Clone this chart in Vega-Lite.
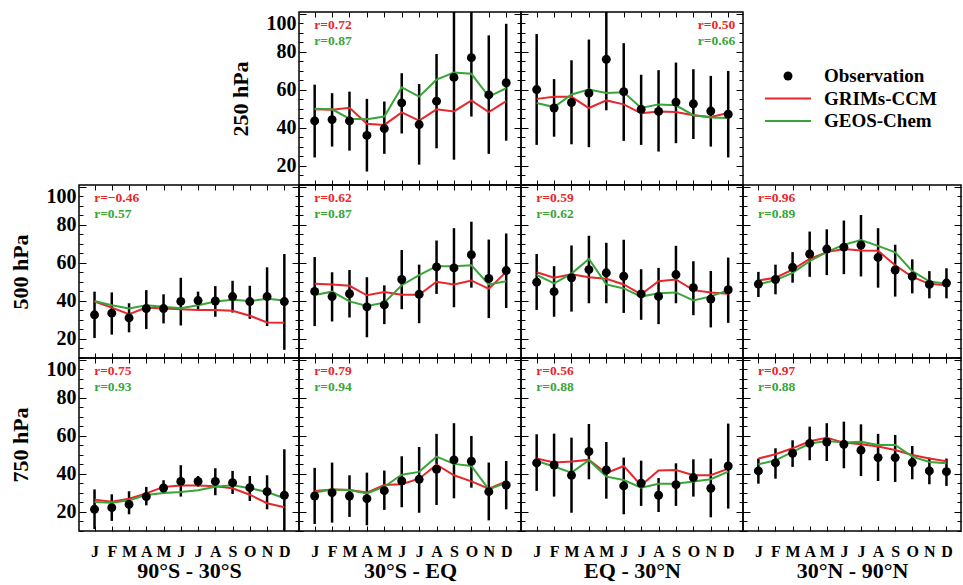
{
"$schema":"https://vega.github.io/schema/vega-lite/v6.json",
"padding":{"left":8,"top":10,"right":0,"bottom":0},
"background":"white",
"config":{
 "view":{"stroke":"black","strokeWidth":1.5},
 "axis":{"grid":false,"domain":false,"tickColor":"black","tickWidth":1,"labelFont":"Liberation Serif","labelFontWeight":"bold","labelColor":"black","titleFont":"Liberation Serif","titleFontWeight":"bold","titleColor":"black"},
 "concat":{"spacing":0}
},
"datasets":{
 "obs":[
{"level":250,"region":"30S-EQ","month":1,"obs":43.7,"low":24.5,"high":62.8,"grims":49.8,"geos":50.1},
{"level":250,"region":"30S-EQ","month":2,"obs":44.4,"low":30.2,"high":58.3,"grims":49.6,"geos":49.8},
{"level":250,"region":"30S-EQ","month":3,"obs":43.7,"low":28.1,"high":59.1,"grims":50.6,"geos":44.9},
{"level":250,"region":"30S-EQ","month":4,"obs":36.1,"low":17.1,"high":55.3,"grims":42.2,"geos":44.6},
{"level":250,"region":"30S-EQ","month":5,"obs":39.7,"low":26.4,"high":53.9,"grims":41.6,"geos":46.0},
{"level":250,"region":"30S-EQ","month":6,"obs":53.2,"low":37.1,"high":68.8,"grims":48.2,"geos":61.4},
{"level":250,"region":"30S-EQ","month":7,"obs":41.8,"low":20.7,"high":63.1,"grims":43.9,"geos":56.5},
{"level":250,"region":"30S-EQ","month":8,"obs":54.1,"low":29.3,"high":78.9,"grims":49.8,"geos":65.4},
{"level":250,"region":"30S-EQ","month":9,"obs":66.6,"low":23.3,"high":110,"grims":48.7,"geos":69.2},
{"level":250,"region":"30S-EQ","month":10,"obs":77.0,"low":46.0,"high":108,"grims":54.5,"geos":68.5},
{"level":250,"region":"30S-EQ","month":11,"obs":57.4,"low":26.4,"high":88.7,"grims":48.4,"geos":56.5},
{"level":250,"region":"30S-EQ","month":12,"obs":63.8,"low":33.3,"high":94.8,"grims":54.1,"geos":60.9},
{"level":250,"region":"EQ-30N","month":1,"obs":60.2,"low":31.1,"high":89.4,"grims":55.3,"geos":53.1},
{"level":250,"region":"EQ-30N","month":2,"obs":50.5,"low":35.4,"high":65.7,"grims":56.4,"geos":51.0},
{"level":250,"region":"EQ-30N","month":3,"obs":53.4,"low":31.4,"high":75.6,"grims":56.4,"geos":57.6},
{"level":250,"region":"EQ-30N","month":4,"obs":58.3,"low":29.9,"high":86.5,"grims":50.5,"geos":60.2},
{"level":250,"region":"EQ-30N","month":5,"obs":76.1,"low":49.3,"high":103,"grims":54.5,"geos":58.4},
{"level":250,"region":"EQ-30N","month":6,"obs":59.1,"low":33.2,"high":84.6,"grims":52.4,"geos":58.8},
{"level":250,"region":"EQ-30N","month":7,"obs":49.8,"low":31.1,"high":68.0,"grims":47.7,"geos":50.5},
{"level":250,"region":"EQ-30N","month":8,"obs":48.7,"low":27.6,"high":70.4,"grims":48.7,"geos":52.4},
{"level":250,"region":"EQ-30N","month":9,"obs":53.6,"low":32.0,"high":74.4,"grims":48.4,"geos":51.9},
{"level":250,"region":"EQ-30N","month":10,"obs":52.7,"low":34.2,"high":70.9,"grims":46.7,"geos":46.7},
{"level":250,"region":"EQ-30N","month":11,"obs":48.9,"low":30.2,"high":67.4,"grims":45.8,"geos":45.5},
{"level":250,"region":"EQ-30N","month":12,"obs":47.2,"low":24.5,"high":70.0,"grims":47.9,"geos":45.3},
{"level":500,"region":"90S-30S","month":1,"obs":32.7,"low":20.5,"high":44.9,"grims":39.7,"geos":40.0},
{"level":500,"region":"90S-30S","month":2,"obs":33.6,"low":22.3,"high":44.5,"grims":36.5,"geos":37.7},
{"level":500,"region":"90S-30S","month":3,"obs":31.1,"low":23.5,"high":38.8,"grims":33.0,"geos":36.0},
{"level":500,"region":"90S-30S","month":4,"obs":36.0,"low":25.2,"high":45.7,"grims":36.5,"geos":37.7},
{"level":500,"region":"90S-30S","month":5,"obs":36.0,"low":28.2,"high":43.5,"grims":36.0,"geos":36.9},
{"level":500,"region":"90S-30S","month":6,"obs":39.8,"low":27.1,"high":52.2,"grims":35.7,"geos":36.2},
{"level":500,"region":"90S-30S","month":7,"obs":40.2,"low":35.1,"high":44.9,"grims":35.3,"geos":37.7},
{"level":500,"region":"90S-30S","month":8,"obs":40.0,"low":31.7,"high":47.8,"grims":35.3,"geos":39.7},
{"level":500,"region":"90S-30S","month":9,"obs":42.3,"low":33.9,"high":50.6,"grims":34.8,"geos":40.7},
{"level":500,"region":"90S-30S","month":10,"obs":39.7,"low":30.6,"high":48.0,"grims":32.2,"geos":40.0},
{"level":500,"region":"90S-30S","month":11,"obs":42.3,"low":26.8,"high":57.7,"grims":28.7,"geos":41.2},
{"level":500,"region":"90S-30S","month":12,"obs":39.7,"low":14.3,"high":64.7,"grims":28.5,"geos":40.3},
{"level":500,"region":"30S-EQ","month":1,"obs":45.0,"low":26.8,"high":63.1,"grims":49.0,"geos":43.1},
{"level":500,"region":"30S-EQ","month":2,"obs":42.3,"low":29.2,"high":55.1,"grims":48.7,"geos":44.9},
{"level":500,"region":"30S-EQ","month":3,"obs":43.8,"low":31.3,"high":56.3,"grims":48.0,"geos":39.8},
{"level":500,"region":"30S-EQ","month":4,"obs":36.9,"low":20.9,"high":52.5,"grims":43.0,"geos":37.4},
{"level":500,"region":"30S-EQ","month":5,"obs":37.9,"low":27.8,"high":48.2,"grims":44.7,"geos":39.1},
{"level":500,"region":"30S-EQ","month":6,"obs":51.3,"low":35.7,"high":66.8,"grims":43.3,"geos":48.3},
{"level":500,"region":"30S-EQ","month":7,"obs":43.5,"low":28.3,"high":59.1,"grims":43.3,"geos":53.6},
{"level":500,"region":"30S-EQ","month":8,"obs":57.9,"low":43.7,"high":71.8,"grims":50.1,"geos":58.3},
{"level":500,"region":"30S-EQ","month":9,"obs":57.4,"low":36.7,"high":78.3,"grims":48.7,"geos":58.3},
{"level":500,"region":"30S-EQ","month":10,"obs":64.3,"low":47.0,"high":81.7,"grims":50.8,"geos":58.8},
{"level":500,"region":"30S-EQ","month":11,"obs":51.8,"low":31.0,"high":72.3,"grims":46.4,"geos":48.7},
{"level":500,"region":"30S-EQ","month":12,"obs":56.0,"low":36.3,"high":75.5,"grims":55.3,"geos":50.4},
{"level":500,"region":"EQ-30N","month":1,"obs":49.9,"low":35.3,"high":64.7,"grims":55.1,"geos":53.7},
{"level":500,"region":"EQ-30N","month":2,"obs":44.9,"low":31.7,"high":58.3,"grims":52.2,"geos":49.2},
{"level":500,"region":"EQ-30N","month":3,"obs":52.2,"low":34.4,"high":69.2,"grims":54.1,"geos":54.4},
{"level":500,"region":"EQ-30N","month":4,"obs":56.5,"low":38.8,"high":74.3,"grims":52.5,"geos":62.1},
{"level":500,"region":"EQ-30N","month":5,"obs":54.8,"low":38.8,"high":70.6,"grims":51.7,"geos":48.7},
{"level":500,"region":"EQ-30N","month":6,"obs":53.0,"low":33.7,"high":72.2,"grims":48.7,"geos":46.6},
{"level":500,"region":"EQ-30N","month":7,"obs":43.7,"low":30.1,"high":56.7,"grims":43.5,"geos":42.3},
{"level":500,"region":"EQ-30N","month":8,"obs":42.4,"low":27.8,"high":57.4,"grims":50.4,"geos":44.0},
{"level":500,"region":"EQ-30N","month":9,"obs":53.9,"low":38.8,"high":69.0,"grims":51.3,"geos":44.5},
{"level":500,"region":"EQ-30N","month":10,"obs":47.0,"low":32.5,"high":60.9,"grims":45.7,"geos":40.3},
{"level":500,"region":"EQ-30N","month":11,"obs":41.0,"low":26.1,"high":55.8,"grims":44.5,"geos":42.4},
{"level":500,"region":"EQ-30N","month":12,"obs":45.9,"low":28.5,"high":62.8,"grims":43.8,"geos":45.7},
{"level":500,"region":"30N-90N","month":1,"obs":48.9,"low":42.1,"high":55.3,"grims":50.8,"geos":48.7},
{"level":500,"region":"30N-90N","month":2,"obs":51.3,"low":43.5,"high":59.1,"grims":52.2,"geos":51.0},
{"level":500,"region":"30N-90N","month":3,"obs":57.7,"low":49.6,"high":65.7,"grims":56.5,"geos":54.8},
{"level":500,"region":"30N-90N","month":4,"obs":64.7,"low":52.7,"high":76.5,"grims":62.1,"geos":60.9},
{"level":500,"region":"30N-90N","month":5,"obs":67.3,"low":53.6,"high":77.7,"grims":65.7,"geos":65.7},
{"level":500,"region":"30N-90N","month":6,"obs":68.3,"low":54.1,"high":82.3,"grims":67.3,"geos":69.6},
{"level":500,"region":"30N-90N","month":7,"obs":69.4,"low":52.9,"high":85.2,"grims":66.6,"geos":72.0},
{"level":500,"region":"30N-90N","month":8,"obs":62.9,"low":47.0,"high":78.3,"grims":66.4,"geos":69.0},
{"level":500,"region":"30N-90N","month":9,"obs":56.3,"low":42.3,"high":69.6,"grims":58.8,"geos":65.6},
{"level":500,"region":"30N-90N","month":10,"obs":52.9,"low":44.0,"high":61.9,"grims":52.7,"geos":55.7},
{"level":500,"region":"30N-90N","month":11,"obs":48.7,"low":41.4,"high":55.7,"grims":49.0,"geos":50.3},
{"level":500,"region":"30N-90N","month":12,"obs":49.4,"low":41.4,"high":57.2,"grims":48.3,"geos":49.0},
{"level":750,"region":"90S-30S","month":1,"obs":21.4,"low":11.0,"high":31.9,"grims":26.5,"geos":25.3},
{"level":750,"region":"90S-30S","month":2,"obs":22.3,"low":15.3,"high":29.3,"grims":25.4,"geos":24.9},
{"level":750,"region":"90S-30S","month":3,"obs":24.0,"low":18.8,"high":30.9,"grims":27.0,"geos":26.1},
{"level":750,"region":"90S-30S","month":4,"obs":28.1,"low":23.5,"high":33.2,"grims":29.8,"geos":28.9},
{"level":750,"region":"90S-30S","month":5,"obs":32.6,"low":30.2,"high":36.7,"grims":33.2,"geos":30.0},
{"level":750,"region":"90S-30S","month":6,"obs":36.1,"low":28.1,"high":44.6,"grims":33.9,"geos":30.5},
{"level":750,"region":"90S-30S","month":7,"obs":36.1,"low":33.3,"high":38.9,"grims":33.9,"geos":31.4},
{"level":750,"region":"90S-30S","month":8,"obs":36.1,"low":28.8,"high":43.0,"grims":33.5,"geos":33.3},
{"level":750,"region":"90S-30S","month":9,"obs":35.4,"low":29.5,"high":41.6,"grims":32.5,"geos":34.0},
{"level":750,"region":"90S-30S","month":10,"obs":32.8,"low":25.8,"high":38.9,"grims":29.1,"geos":32.5},
{"level":750,"region":"90S-30S","month":11,"obs":30.7,"low":21.4,"high":39.3,"grims":24.6,"geos":30.5},
{"level":750,"region":"90S-30S","month":12,"obs":28.8,"low":5.0,"high":53.0,"grims":22.5,"geos":27.2},
{"level":750,"region":"30S-EQ","month":1,"obs":28.4,"low":13.7,"high":43.2,"grims":31.1,"geos":30.2},
{"level":750,"region":"30S-EQ","month":2,"obs":30.2,"low":14.4,"high":46.0,"grims":31.8,"geos":31.8},
{"level":750,"region":"30S-EQ","month":3,"obs":28.4,"low":17.4,"high":39.3,"grims":31.6,"geos":31.6},
{"level":750,"region":"30S-EQ","month":4,"obs":27.0,"low":13.0,"high":40.7,"grims":30.2,"geos":29.8},
{"level":750,"region":"30S-EQ","month":5,"obs":31.2,"low":21.1,"high":41.8,"grims":34.2,"geos":33.3},
{"level":750,"region":"30S-EQ","month":6,"obs":36.3,"low":22.5,"high":49.3,"grims":34.6,"geos":39.6},
{"level":750,"region":"30S-EQ","month":7,"obs":37.2,"low":19.6,"high":54.2,"grims":37.5,"geos":41.1},
{"level":750,"region":"30S-EQ","month":8,"obs":42.5,"low":23.7,"high":61.1,"grims":44.9,"geos":49.1},
{"level":750,"region":"30S-EQ","month":9,"obs":47.4,"low":27.2,"high":66.7,"grims":39.3,"geos":45.3},
{"level":750,"region":"30S-EQ","month":10,"obs":46.7,"low":32.8,"high":60.0,"grims":36.1,"geos":44.2},
{"level":750,"region":"30S-EQ","month":11,"obs":30.7,"low":15.6,"high":46.0,"grims":32.3,"geos":31.9},
{"level":750,"region":"30S-EQ","month":12,"obs":34.2,"low":21.4,"high":46.8,"grims":36.1,"geos":35.4},
{"level":750,"region":"EQ-30N","month":1,"obs":45.8,"low":31.1,"high":60.9,"grims":48.1,"geos":46.8},
{"level":750,"region":"EQ-30N","month":2,"obs":44.7,"low":28.1,"high":61.2,"grims":46.0,"geos":43.9},
{"level":750,"region":"EQ-30N","month":3,"obs":39.3,"low":19.6,"high":59.1,"grims":46.5,"geos":40.7},
{"level":750,"region":"EQ-30N","month":4,"obs":51.8,"low":37.2,"high":66.3,"grims":47.4,"geos":47.2},
{"level":750,"region":"EQ-30N","month":5,"obs":42.1,"low":27.0,"high":56.8,"grims":40.4,"geos":38.6},
{"level":750,"region":"EQ-30N","month":6,"obs":33.7,"low":18.8,"high":48.6,"grims":44.2,"geos":36.8},
{"level":750,"region":"EQ-30N","month":7,"obs":35.1,"low":23.2,"high":47.0,"grims":34.0,"geos":32.8},
{"level":750,"region":"EQ-30N","month":8,"obs":28.8,"low":20.0,"high":37.9,"grims":41.8,"geos":34.9},
{"level":750,"region":"EQ-30N","month":9,"obs":34.4,"low":23.2,"high":45.6,"grims":42.1,"geos":34.9},
{"level":750,"region":"EQ-30N","month":10,"obs":38.1,"low":28.1,"high":47.7,"grims":39.3,"geos":36.0},
{"level":750,"region":"EQ-30N","month":11,"obs":32.5,"low":17.2,"high":48.1,"grims":39.3,"geos":37.2},
{"level":750,"region":"EQ-30N","month":12,"obs":44.2,"low":21.8,"high":66.5,"grims":42.8,"geos":41.2},
{"level":750,"region":"30N-90N","month":1,"obs":41.6,"low":34.9,"high":48.1,"grims":48.1,"geos":45.1},
{"level":750,"region":"30N-90N","month":2,"obs":45.8,"low":37.5,"high":53.5,"grims":50.4,"geos":47.2},
{"level":750,"region":"30N-90N","month":3,"obs":50.9,"low":43.7,"high":57.7,"grims":53.5,"geos":51.6},
{"level":750,"region":"30N-90N","month":4,"obs":56.1,"low":47.2,"high":64.9,"grims":57.2,"geos":56.0},
{"level":750,"region":"30N-90N","month":5,"obs":56.8,"low":46.8,"high":66.7,"grims":59.1,"geos":57.4},
{"level":750,"region":"30N-90N","month":6,"obs":55.6,"low":43.0,"high":67.5,"grims":56.5,"geos":56.5},
{"level":750,"region":"30N-90N","month":7,"obs":52.5,"low":38.9,"high":66.1,"grims":55.6,"geos":57.0},
{"level":750,"region":"30N-90N","month":8,"obs":48.6,"low":36.3,"high":61.1,"grims":54.4,"geos":55.3},
{"level":750,"region":"30N-90N","month":9,"obs":48.6,"low":35.8,"high":60.5,"grims":52.6,"geos":55.3},
{"level":750,"region":"30N-90N","month":10,"obs":46.0,"low":37.2,"high":54.7,"grims":50.0,"geos":49.1},
{"level":750,"region":"30N-90N","month":11,"obs":41.6,"low":34.6,"high":48.6,"grims":48.1,"geos":46.3},
{"level":750,"region":"30N-90N","month":12,"obs":41.2,"low":33.7,"high":48.1,"grims":46.7,"geos":45.6}
 ],
 "r":[
{"level":250,"region":"30S-EQ","r_grims":0.72,"r_geos":0.87},
{"level":250,"region":"EQ-30N","r_grims":0.50,"r_geos":0.66},
{"level":500,"region":"90S-30S","r_grims":-0.46,"r_geos":0.57},
{"level":500,"region":"30S-EQ","r_grims":0.62,"r_geos":0.87},
{"level":500,"region":"EQ-30N","r_grims":0.59,"r_geos":0.62},
{"level":500,"region":"30N-90N","r_grims":0.96,"r_geos":0.89},
{"level":750,"region":"90S-30S","r_grims":0.75,"r_geos":0.93},
{"level":750,"region":"30S-EQ","r_grims":0.79,"r_geos":0.94},
{"level":750,"region":"EQ-30N","r_grims":0.56,"r_geos":0.88},
{"level":750,"region":"30N-90N","r_grims":0.97,"r_geos":0.88}
 ],
 "legend":[{"label":"Observation"},{"label":"GRIMs-CCM"},{"label":"GEOS-Chem"}]
},
"columns":4,
"spacing":0,
"bounds":"flush",
"align":"each",
"concat":[
 {"width":220,"height":173,"view":{"stroke":null},"data":{"values":[]},"mark":"point","encoding":{}},
 {"width":222,"height":173,
  "layer":[
   {"data":{"name":"obs"},"transform":[{"filter":"datum.level==250 && datum.region=='30S-EQ'"}],"mark":{"type":"rule","color":"black","strokeWidth":2.5,"clip":true},
    "encoding":{"x":{"field":"month","type":"quantitative","scale":{"domain":[0.1,12.85],"nice":false,"zero":false},"axis":{"orient":"bottom","values":[1,2,3,4,5,6,7,8,9,10,11,12],"tickSize":-5,"labels":false,"title":null}},
     "y":{"field":"low","type":"quantitative","scale":{"domain":[10,101],"nice":false,"zero":false},"axis":{"orient":"left","values":[10,15,20,25,30,35,40,45,50,55,60,65,70,75,80,85,90,95,100],"tickSize":{"condition":{"test":"datum.value % 20 === 0","value":-7},"value":-4},"labelExpr":"datum.value % 20 === 0 ? datum.label : ''","labelFontSize":20,"labelPadding":10,"labelFlush":5,"labelOverlap":false,"title":"250 hPa","titleFontSize":22,"titlePadding":14}},
     "y2":{"field":"high"}}},
   {"data":{"name":"obs"},"transform":[{"filter":"datum.level==250 && datum.region=='30S-EQ'"}],"mark":{"type":"line","color":"#e8262b","strokeWidth":2,"clip":true},
    "encoding":{"x":{"field":"month","type":"quantitative","scale":{"domain":[0.1,12.85],"nice":false,"zero":false},"axis":{"orient":"top","values":[1,2,3,4,5,6,7,8,9,10,11,12],"tickSize":-5,"labels":false,"title":null}},
     "y":{"field":"grims","type":"quantitative","scale":{"domain":[10,101],"nice":false,"zero":false},"axis":{"orient":"right","values":[10,15,20,25,30,35,40,45,50,55,60,65,70,75,80,85,90,95,100],"tickSize":{"condition":{"test":"datum.value % 20 === 0","value":-7},"value":-4},"labels":false,"title":null}}}},
   {"data":{"name":"obs"},"transform":[{"filter":"datum.level==250 && datum.region=='30S-EQ'"}],"mark":{"type":"line","color":"#38a538","strokeWidth":2,"clip":true},
    "encoding":{"x":{"field":"month","type":"quantitative","scale":{"domain":[0.1,12.85],"nice":false,"zero":false},"axis":null},
     "y":{"field":"geos","type":"quantitative","scale":{"domain":[10,101],"nice":false,"zero":false},"axis":null}}},
   {"data":{"name":"obs"},"transform":[{"filter":"datum.level==250 && datum.region=='30S-EQ'"}],"mark":{"type":"circle","color":"black","size":80,"opacity":1},
    "encoding":{"x":{"field":"month","type":"quantitative","scale":{"domain":[0.1,12.85],"nice":false,"zero":false},"axis":null},
     "y":{"field":"obs","type":"quantitative","scale":{"domain":[10,101],"nice":false,"zero":false},"axis":null}}},
   {"data":{"name":"r"},"transform":[{"filter":"datum.level==250 && datum.region=='30S-EQ'"},{"calculate":"'r=' + format(datum.r_grims, '.2f')","as":"t"}],"mark":{"type":"text","align":"left","baseline":"middle","color":"#e8262b","font":"Liberation Serif","fontWeight":"bold","fontSize":13.5},
    "encoding":{"x":{"datum":0.98,"type":"quantitative","scale":{"domain":[0.1,12.85],"nice":false,"zero":false},"axis":null},"y":{"datum":94,"type":"quantitative","scale":{"domain":[10,101],"nice":false,"zero":false},"axis":null},"text":{"field":"t"}}},
   {"data":{"name":"r"},"transform":[{"filter":"datum.level==250 && datum.region=='30S-EQ'"},{"calculate":"'r=' + format(datum.r_geos, '.2f')","as":"t"}],"mark":{"type":"text","align":"left","baseline":"middle","color":"#38a538","font":"Liberation Serif","fontWeight":"bold","fontSize":13.5},
    "encoding":{"x":{"datum":0.98,"type":"quantitative","scale":{"domain":[0.1,12.85],"nice":false,"zero":false},"axis":null},"y":{"datum":85.5,"type":"quantitative","scale":{"domain":[10,101],"nice":false,"zero":false},"axis":null},"text":{"field":"t"}}}
  ],
  "resolve":{"axis":{"x":"independent","y":"independent"}}},
 {"width":222,"height":173,
  "layer":[
   {"data":{"name":"obs"},"transform":[{"filter":"datum.level==250 && datum.region=='EQ-30N'"}],"mark":{"type":"rule","color":"black","strokeWidth":2.5,"clip":true},
    "encoding":{"x":{"field":"month","type":"quantitative","scale":{"domain":[0.1,12.85],"nice":false,"zero":false},"axis":{"orient":"bottom","values":[1,2,3,4,5,6,7,8,9,10,11,12],"tickSize":-5,"labels":false,"title":null}},
     "y":{"field":"low","type":"quantitative","scale":{"domain":[10,101],"nice":false,"zero":false},"axis":{"orient":"left","values":[10,15,20,25,30,35,40,45,50,55,60,65,70,75,80,85,90,95,100],"tickSize":{"condition":{"test":"datum.value % 20 === 0","value":-7},"value":-4},"labels":false,"title":null}},
     "y2":{"field":"high"}}},
   {"data":{"name":"obs"},"transform":[{"filter":"datum.level==250 && datum.region=='EQ-30N'"}],"mark":{"type":"line","color":"#e8262b","strokeWidth":2,"clip":true},
    "encoding":{"x":{"field":"month","type":"quantitative","scale":{"domain":[0.1,12.85],"nice":false,"zero":false},"axis":{"orient":"top","values":[1,2,3,4,5,6,7,8,9,10,11,12],"tickSize":-5,"labels":false,"title":null}},
     "y":{"field":"grims","type":"quantitative","scale":{"domain":[10,101],"nice":false,"zero":false},"axis":{"orient":"right","values":[10,15,20,25,30,35,40,45,50,55,60,65,70,75,80,85,90,95,100],"tickSize":{"condition":{"test":"datum.value % 20 === 0","value":-7},"value":-4},"labels":false,"title":null}}}},
   {"data":{"name":"obs"},"transform":[{"filter":"datum.level==250 && datum.region=='EQ-30N'"}],"mark":{"type":"line","color":"#38a538","strokeWidth":2,"clip":true},
    "encoding":{"x":{"field":"month","type":"quantitative","scale":{"domain":[0.1,12.85],"nice":false,"zero":false},"axis":null},
     "y":{"field":"geos","type":"quantitative","scale":{"domain":[10,101],"nice":false,"zero":false},"axis":null}}},
   {"data":{"name":"obs"},"transform":[{"filter":"datum.level==250 && datum.region=='EQ-30N'"}],"mark":{"type":"circle","color":"black","size":80,"opacity":1},
    "encoding":{"x":{"field":"month","type":"quantitative","scale":{"domain":[0.1,12.85],"nice":false,"zero":false},"axis":null},
     "y":{"field":"obs","type":"quantitative","scale":{"domain":[10,101],"nice":false,"zero":false},"axis":null}}},
   {"data":{"name":"r"},"transform":[{"filter":"datum.level==250 && datum.region=='EQ-30N'"},{"calculate":"'r=' + format(datum.r_grims, '.2f')","as":"t"}],"mark":{"type":"text","align":"right","baseline":"middle","color":"#e8262b","font":"Liberation Serif","fontWeight":"bold","fontSize":13.5},
    "encoding":{"x":{"datum":12.4,"type":"quantitative","scale":{"domain":[0.1,12.85],"nice":false,"zero":false},"axis":null},"y":{"datum":94,"type":"quantitative","scale":{"domain":[10,101],"nice":false,"zero":false},"axis":null},"text":{"field":"t"}}},
   {"data":{"name":"r"},"transform":[{"filter":"datum.level==250 && datum.region=='EQ-30N'"},{"calculate":"'r=' + format(datum.r_geos, '.2f')","as":"t"}],"mark":{"type":"text","align":"right","baseline":"middle","color":"#38a538","font":"Liberation Serif","fontWeight":"bold","fontSize":13.5},
    "encoding":{"x":{"datum":12.4,"type":"quantitative","scale":{"domain":[0.1,12.85],"nice":false,"zero":false},"axis":null},"y":{"datum":85.5,"type":"quantitative","scale":{"domain":[10,101],"nice":false,"zero":false},"axis":null},"text":{"field":"t"}}}
  ],
  "resolve":{"axis":{"x":"independent","y":"independent"}}},
 {"width":218,"height":173,"view":{"stroke":null},"data":{"name":"legend"},
  "layer":[
   {"transform":[{"filter":"datum.label=='Observation'"}],"mark":{"type":"circle","color":"black","size":80,"opacity":1},
    "encoding":{"x":{"datum":4.5,"type":"quantitative","scale":{"domain":[0,21.8],"nice":false,"zero":false},"axis":null},
     "y":{"field":"label","type":"nominal","scale":{"type":"point","padding":0,"domain":["Observation","GRIMs-CCM","GEOS-Chem"],"range":[64,109]},"axis":null}}},
   {"transform":[{"filter":"datum.label!='Observation'"}],"mark":{"type":"rule","strokeWidth":2},
    "encoding":{"x":{"datum":2.2,"type":"quantitative","scale":{"domain":[0,21.8],"nice":false,"zero":false},"axis":null},"x2":{"datum":6.8},
     "y":{"field":"label","type":"nominal","scale":{"type":"point","padding":0,"domain":["Observation","GRIMs-CCM","GEOS-Chem"],"range":[64,109]},"axis":null},
     "color":{"field":"label","type":"nominal","scale":{"domain":["GRIMs-CCM","GEOS-Chem"],"range":["#e8262b","#38a538"]},"legend":null}}},
   {"mark":{"type":"text","align":"left","baseline":"middle","color":"black","font":"Liberation Serif","fontWeight":"bold","fontSize":19},
    "encoding":{"x":{"datum":8.1,"type":"quantitative","scale":{"domain":[0,21.8],"nice":false,"zero":false},"axis":null},
     "y":{"field":"label","type":"nominal","scale":{"type":"point","padding":0,"domain":["Observation","GRIMs-CCM","GEOS-Chem"],"range":[64,109]},"axis":null},
     "text":{"field":"label"}}}
  ]},
 {"width":220,"height":173,
  "layer":[
   {"data":{"name":"obs"},"transform":[{"filter":"datum.level==500 && datum.region=='90S-30S'"}],"mark":{"type":"rule","color":"black","strokeWidth":2.5,"clip":true},
    "encoding":{"x":{"field":"month","type":"quantitative","scale":{"domain":[0.1,12.85],"nice":false,"zero":false},"axis":{"orient":"bottom","values":[1,2,3,4,5,6,7,8,9,10,11,12],"tickSize":-5,"labels":false,"title":null}},
     "y":{"field":"low","type":"quantitative","scale":{"domain":[10,101],"nice":false,"zero":false},"axis":{"orient":"left","values":[10,15,20,25,30,35,40,45,50,55,60,65,70,75,80,85,90,95,100],"tickSize":{"condition":{"test":"datum.value % 20 === 0","value":-7},"value":-4},"labelExpr":"datum.value % 20 === 0 ? datum.label : ''","labelFontSize":20,"labelPadding":10,"labelFlush":5,"labelOverlap":false,"title":"500 hPa","titleFontSize":22,"titlePadding":14}},
     "y2":{"field":"high"}}},
   {"data":{"name":"obs"},"transform":[{"filter":"datum.level==500 && datum.region=='90S-30S'"}],"mark":{"type":"line","color":"#e8262b","strokeWidth":2,"clip":true},
    "encoding":{"x":{"field":"month","type":"quantitative","scale":{"domain":[0.1,12.85],"nice":false,"zero":false},"axis":{"orient":"top","values":[1,2,3,4,5,6,7,8,9,10,11,12],"tickSize":-5,"labels":false,"title":null}},
     "y":{"field":"grims","type":"quantitative","scale":{"domain":[10,101],"nice":false,"zero":false},"axis":{"orient":"right","values":[10,15,20,25,30,35,40,45,50,55,60,65,70,75,80,85,90,95,100],"tickSize":{"condition":{"test":"datum.value % 20 === 0","value":-7},"value":-4},"labels":false,"title":null}}}},
   {"data":{"name":"obs"},"transform":[{"filter":"datum.level==500 && datum.region=='90S-30S'"}],"mark":{"type":"line","color":"#38a538","strokeWidth":2,"clip":true},
    "encoding":{"x":{"field":"month","type":"quantitative","scale":{"domain":[0.1,12.85],"nice":false,"zero":false},"axis":null},
     "y":{"field":"geos","type":"quantitative","scale":{"domain":[10,101],"nice":false,"zero":false},"axis":null}}},
   {"data":{"name":"obs"},"transform":[{"filter":"datum.level==500 && datum.region=='90S-30S'"}],"mark":{"type":"circle","color":"black","size":80,"opacity":1},
    "encoding":{"x":{"field":"month","type":"quantitative","scale":{"domain":[0.1,12.85],"nice":false,"zero":false},"axis":null},
     "y":{"field":"obs","type":"quantitative","scale":{"domain":[10,101],"nice":false,"zero":false},"axis":null}}},
   {"data":{"name":"r"},"transform":[{"filter":"datum.level==500 && datum.region=='90S-30S'"},{"calculate":"'r=' + format(datum.r_grims, '.2f')","as":"t"}],"mark":{"type":"text","align":"left","baseline":"middle","color":"#e8262b","font":"Liberation Serif","fontWeight":"bold","fontSize":13.5},
    "encoding":{"x":{"datum":0.98,"type":"quantitative","scale":{"domain":[0.1,12.85],"nice":false,"zero":false},"axis":null},"y":{"datum":94,"type":"quantitative","scale":{"domain":[10,101],"nice":false,"zero":false},"axis":null},"text":{"field":"t"}}},
   {"data":{"name":"r"},"transform":[{"filter":"datum.level==500 && datum.region=='90S-30S'"},{"calculate":"'r=' + format(datum.r_geos, '.2f')","as":"t"}],"mark":{"type":"text","align":"left","baseline":"middle","color":"#38a538","font":"Liberation Serif","fontWeight":"bold","fontSize":13.5},
    "encoding":{"x":{"datum":0.98,"type":"quantitative","scale":{"domain":[0.1,12.85],"nice":false,"zero":false},"axis":null},"y":{"datum":85.5,"type":"quantitative","scale":{"domain":[10,101],"nice":false,"zero":false},"axis":null},"text":{"field":"t"}}}
  ],
  "resolve":{"axis":{"x":"independent","y":"independent"}}},
 {"width":222,"height":173,
  "layer":[
   {"data":{"name":"obs"},"transform":[{"filter":"datum.level==500 && datum.region=='30S-EQ'"}],"mark":{"type":"rule","color":"black","strokeWidth":2.5,"clip":true},
    "encoding":{"x":{"field":"month","type":"quantitative","scale":{"domain":[0.1,12.85],"nice":false,"zero":false},"axis":{"orient":"bottom","values":[1,2,3,4,5,6,7,8,9,10,11,12],"tickSize":-5,"labels":false,"title":null}},
     "y":{"field":"low","type":"quantitative","scale":{"domain":[10,101],"nice":false,"zero":false},"axis":{"orient":"left","values":[10,15,20,25,30,35,40,45,50,55,60,65,70,75,80,85,90,95,100],"tickSize":{"condition":{"test":"datum.value % 20 === 0","value":-7},"value":-4},"labels":false,"title":null}},
     "y2":{"field":"high"}}},
   {"data":{"name":"obs"},"transform":[{"filter":"datum.level==500 && datum.region=='30S-EQ'"}],"mark":{"type":"line","color":"#e8262b","strokeWidth":2,"clip":true},
    "encoding":{"x":{"field":"month","type":"quantitative","scale":{"domain":[0.1,12.85],"nice":false,"zero":false},"axis":{"orient":"top","values":[1,2,3,4,5,6,7,8,9,10,11,12],"tickSize":-5,"labels":false,"title":null}},
     "y":{"field":"grims","type":"quantitative","scale":{"domain":[10,101],"nice":false,"zero":false},"axis":{"orient":"right","values":[10,15,20,25,30,35,40,45,50,55,60,65,70,75,80,85,90,95,100],"tickSize":{"condition":{"test":"datum.value % 20 === 0","value":-7},"value":-4},"labels":false,"title":null}}}},
   {"data":{"name":"obs"},"transform":[{"filter":"datum.level==500 && datum.region=='30S-EQ'"}],"mark":{"type":"line","color":"#38a538","strokeWidth":2,"clip":true},
    "encoding":{"x":{"field":"month","type":"quantitative","scale":{"domain":[0.1,12.85],"nice":false,"zero":false},"axis":null},
     "y":{"field":"geos","type":"quantitative","scale":{"domain":[10,101],"nice":false,"zero":false},"axis":null}}},
   {"data":{"name":"obs"},"transform":[{"filter":"datum.level==500 && datum.region=='30S-EQ'"}],"mark":{"type":"circle","color":"black","size":80,"opacity":1},
    "encoding":{"x":{"field":"month","type":"quantitative","scale":{"domain":[0.1,12.85],"nice":false,"zero":false},"axis":null},
     "y":{"field":"obs","type":"quantitative","scale":{"domain":[10,101],"nice":false,"zero":false},"axis":null}}},
   {"data":{"name":"r"},"transform":[{"filter":"datum.level==500 && datum.region=='30S-EQ'"},{"calculate":"'r=' + format(datum.r_grims, '.2f')","as":"t"}],"mark":{"type":"text","align":"left","baseline":"middle","color":"#e8262b","font":"Liberation Serif","fontWeight":"bold","fontSize":13.5},
    "encoding":{"x":{"datum":0.98,"type":"quantitative","scale":{"domain":[0.1,12.85],"nice":false,"zero":false},"axis":null},"y":{"datum":94,"type":"quantitative","scale":{"domain":[10,101],"nice":false,"zero":false},"axis":null},"text":{"field":"t"}}},
   {"data":{"name":"r"},"transform":[{"filter":"datum.level==500 && datum.region=='30S-EQ'"},{"calculate":"'r=' + format(datum.r_geos, '.2f')","as":"t"}],"mark":{"type":"text","align":"left","baseline":"middle","color":"#38a538","font":"Liberation Serif","fontWeight":"bold","fontSize":13.5},
    "encoding":{"x":{"datum":0.98,"type":"quantitative","scale":{"domain":[0.1,12.85],"nice":false,"zero":false},"axis":null},"y":{"datum":85.5,"type":"quantitative","scale":{"domain":[10,101],"nice":false,"zero":false},"axis":null},"text":{"field":"t"}}}
  ],
  "resolve":{"axis":{"x":"independent","y":"independent"}}},
 {"width":222,"height":173,
  "layer":[
   {"data":{"name":"obs"},"transform":[{"filter":"datum.level==500 && datum.region=='EQ-30N'"}],"mark":{"type":"rule","color":"black","strokeWidth":2.5,"clip":true},
    "encoding":{"x":{"field":"month","type":"quantitative","scale":{"domain":[0.1,12.85],"nice":false,"zero":false},"axis":{"orient":"bottom","values":[1,2,3,4,5,6,7,8,9,10,11,12],"tickSize":-5,"labels":false,"title":null}},
     "y":{"field":"low","type":"quantitative","scale":{"domain":[10,101],"nice":false,"zero":false},"axis":{"orient":"left","values":[10,15,20,25,30,35,40,45,50,55,60,65,70,75,80,85,90,95,100],"tickSize":{"condition":{"test":"datum.value % 20 === 0","value":-7},"value":-4},"labels":false,"title":null}},
     "y2":{"field":"high"}}},
   {"data":{"name":"obs"},"transform":[{"filter":"datum.level==500 && datum.region=='EQ-30N'"}],"mark":{"type":"line","color":"#e8262b","strokeWidth":2,"clip":true},
    "encoding":{"x":{"field":"month","type":"quantitative","scale":{"domain":[0.1,12.85],"nice":false,"zero":false},"axis":{"orient":"top","values":[1,2,3,4,5,6,7,8,9,10,11,12],"tickSize":-5,"labels":false,"title":null}},
     "y":{"field":"grims","type":"quantitative","scale":{"domain":[10,101],"nice":false,"zero":false},"axis":{"orient":"right","values":[10,15,20,25,30,35,40,45,50,55,60,65,70,75,80,85,90,95,100],"tickSize":{"condition":{"test":"datum.value % 20 === 0","value":-7},"value":-4},"labels":false,"title":null}}}},
   {"data":{"name":"obs"},"transform":[{"filter":"datum.level==500 && datum.region=='EQ-30N'"}],"mark":{"type":"line","color":"#38a538","strokeWidth":2,"clip":true},
    "encoding":{"x":{"field":"month","type":"quantitative","scale":{"domain":[0.1,12.85],"nice":false,"zero":false},"axis":null},
     "y":{"field":"geos","type":"quantitative","scale":{"domain":[10,101],"nice":false,"zero":false},"axis":null}}},
   {"data":{"name":"obs"},"transform":[{"filter":"datum.level==500 && datum.region=='EQ-30N'"}],"mark":{"type":"circle","color":"black","size":80,"opacity":1},
    "encoding":{"x":{"field":"month","type":"quantitative","scale":{"domain":[0.1,12.85],"nice":false,"zero":false},"axis":null},
     "y":{"field":"obs","type":"quantitative","scale":{"domain":[10,101],"nice":false,"zero":false},"axis":null}}},
   {"data":{"name":"r"},"transform":[{"filter":"datum.level==500 && datum.region=='EQ-30N'"},{"calculate":"'r=' + format(datum.r_grims, '.2f')","as":"t"}],"mark":{"type":"text","align":"left","baseline":"middle","color":"#e8262b","font":"Liberation Serif","fontWeight":"bold","fontSize":13.5},
    "encoding":{"x":{"datum":0.98,"type":"quantitative","scale":{"domain":[0.1,12.85],"nice":false,"zero":false},"axis":null},"y":{"datum":94,"type":"quantitative","scale":{"domain":[10,101],"nice":false,"zero":false},"axis":null},"text":{"field":"t"}}},
   {"data":{"name":"r"},"transform":[{"filter":"datum.level==500 && datum.region=='EQ-30N'"},{"calculate":"'r=' + format(datum.r_geos, '.2f')","as":"t"}],"mark":{"type":"text","align":"left","baseline":"middle","color":"#38a538","font":"Liberation Serif","fontWeight":"bold","fontSize":13.5},
    "encoding":{"x":{"datum":0.98,"type":"quantitative","scale":{"domain":[0.1,12.85],"nice":false,"zero":false},"axis":null},"y":{"datum":85.5,"type":"quantitative","scale":{"domain":[10,101],"nice":false,"zero":false},"axis":null},"text":{"field":"t"}}}
  ],
  "resolve":{"axis":{"x":"independent","y":"independent"}}},
 {"width":218,"height":173,
  "layer":[
   {"data":{"name":"obs"},"transform":[{"filter":"datum.level==500 && datum.region=='30N-90N'"}],"mark":{"type":"rule","color":"black","strokeWidth":2.5,"clip":true},
    "encoding":{"x":{"field":"month","type":"quantitative","scale":{"domain":[0.1,12.85],"nice":false,"zero":false},"axis":{"orient":"bottom","values":[1,2,3,4,5,6,7,8,9,10,11,12],"tickSize":-5,"labels":false,"title":null}},
     "y":{"field":"low","type":"quantitative","scale":{"domain":[10,101],"nice":false,"zero":false},"axis":{"orient":"left","values":[10,15,20,25,30,35,40,45,50,55,60,65,70,75,80,85,90,95,100],"tickSize":{"condition":{"test":"datum.value % 20 === 0","value":-7},"value":-4},"labels":false,"title":null}},
     "y2":{"field":"high"}}},
   {"data":{"name":"obs"},"transform":[{"filter":"datum.level==500 && datum.region=='30N-90N'"}],"mark":{"type":"line","color":"#e8262b","strokeWidth":2,"clip":true},
    "encoding":{"x":{"field":"month","type":"quantitative","scale":{"domain":[0.1,12.85],"nice":false,"zero":false},"axis":{"orient":"top","values":[1,2,3,4,5,6,7,8,9,10,11,12],"tickSize":-5,"labels":false,"title":null}},
     "y":{"field":"grims","type":"quantitative","scale":{"domain":[10,101],"nice":false,"zero":false},"axis":{"orient":"right","values":[10,15,20,25,30,35,40,45,50,55,60,65,70,75,80,85,90,95,100],"tickSize":{"condition":{"test":"datum.value % 20 === 0","value":-7},"value":-4},"labels":false,"title":null}}}},
   {"data":{"name":"obs"},"transform":[{"filter":"datum.level==500 && datum.region=='30N-90N'"}],"mark":{"type":"line","color":"#38a538","strokeWidth":2,"clip":true},
    "encoding":{"x":{"field":"month","type":"quantitative","scale":{"domain":[0.1,12.85],"nice":false,"zero":false},"axis":null},
     "y":{"field":"geos","type":"quantitative","scale":{"domain":[10,101],"nice":false,"zero":false},"axis":null}}},
   {"data":{"name":"obs"},"transform":[{"filter":"datum.level==500 && datum.region=='30N-90N'"}],"mark":{"type":"circle","color":"black","size":80,"opacity":1},
    "encoding":{"x":{"field":"month","type":"quantitative","scale":{"domain":[0.1,12.85],"nice":false,"zero":false},"axis":null},
     "y":{"field":"obs","type":"quantitative","scale":{"domain":[10,101],"nice":false,"zero":false},"axis":null}}},
   {"data":{"name":"r"},"transform":[{"filter":"datum.level==500 && datum.region=='30N-90N'"},{"calculate":"'r=' + format(datum.r_grims, '.2f')","as":"t"}],"mark":{"type":"text","align":"left","baseline":"middle","color":"#e8262b","font":"Liberation Serif","fontWeight":"bold","fontSize":13.5},
    "encoding":{"x":{"datum":0.98,"type":"quantitative","scale":{"domain":[0.1,12.85],"nice":false,"zero":false},"axis":null},"y":{"datum":94,"type":"quantitative","scale":{"domain":[10,101],"nice":false,"zero":false},"axis":null},"text":{"field":"t"}}},
   {"data":{"name":"r"},"transform":[{"filter":"datum.level==500 && datum.region=='30N-90N'"},{"calculate":"'r=' + format(datum.r_geos, '.2f')","as":"t"}],"mark":{"type":"text","align":"left","baseline":"middle","color":"#38a538","font":"Liberation Serif","fontWeight":"bold","fontSize":13.5},
    "encoding":{"x":{"datum":0.98,"type":"quantitative","scale":{"domain":[0.1,12.85],"nice":false,"zero":false},"axis":null},"y":{"datum":85.5,"type":"quantitative","scale":{"domain":[10,101],"nice":false,"zero":false},"axis":null},"text":{"field":"t"}}}
  ],
  "resolve":{"axis":{"x":"independent","y":"independent"}}},
 {"width":220,"height":173,
  "layer":[
   {"data":{"name":"obs"},"transform":[{"filter":"datum.level==750 && datum.region=='90S-30S'"}],"mark":{"type":"rule","color":"black","strokeWidth":2.5,"clip":true},
    "encoding":{"x":{"field":"month","type":"quantitative","scale":{"domain":[0.1,12.85],"nice":false,"zero":false},"axis":{"orient":"bottom","values":[1,2,3,4,5,6,7,8,9,10,11,12],"tickSize":-5,"labelExpr":"['J','F','M','A','M','J','J','A','S','O','N','D'][datum.value-1]","labelFontSize":16,"labelPadding":17,"labelFlush":false,"labelOverlap":false,"title":"90°S - 30°S","titleFontSize":22,"titlePadding":1}},
     "y":{"field":"low","type":"quantitative","scale":{"domain":[10,101],"nice":false,"zero":false},"axis":{"orient":"left","values":[10,15,20,25,30,35,40,45,50,55,60,65,70,75,80,85,90,95,100],"tickSize":{"condition":{"test":"datum.value % 20 === 0","value":-7},"value":-4},"labelExpr":"datum.value % 20 === 0 ? datum.label : ''","labelFontSize":20,"labelPadding":10,"labelFlush":5,"labelOverlap":false,"title":"750 hPa","titleFontSize":22,"titlePadding":14}},
     "y2":{"field":"high"}}},
   {"data":{"name":"obs"},"transform":[{"filter":"datum.level==750 && datum.region=='90S-30S'"}],"mark":{"type":"line","color":"#e8262b","strokeWidth":2,"clip":true},
    "encoding":{"x":{"field":"month","type":"quantitative","scale":{"domain":[0.1,12.85],"nice":false,"zero":false},"axis":{"orient":"top","values":[1,2,3,4,5,6,7,8,9,10,11,12],"tickSize":-5,"labels":false,"title":null}},
     "y":{"field":"grims","type":"quantitative","scale":{"domain":[10,101],"nice":false,"zero":false},"axis":{"orient":"right","values":[10,15,20,25,30,35,40,45,50,55,60,65,70,75,80,85,90,95,100],"tickSize":{"condition":{"test":"datum.value % 20 === 0","value":-7},"value":-4},"labels":false,"title":null}}}},
   {"data":{"name":"obs"},"transform":[{"filter":"datum.level==750 && datum.region=='90S-30S'"}],"mark":{"type":"line","color":"#38a538","strokeWidth":2,"clip":true},
    "encoding":{"x":{"field":"month","type":"quantitative","scale":{"domain":[0.1,12.85],"nice":false,"zero":false},"axis":null},
     "y":{"field":"geos","type":"quantitative","scale":{"domain":[10,101],"nice":false,"zero":false},"axis":null}}},
   {"data":{"name":"obs"},"transform":[{"filter":"datum.level==750 && datum.region=='90S-30S'"}],"mark":{"type":"circle","color":"black","size":80,"opacity":1},
    "encoding":{"x":{"field":"month","type":"quantitative","scale":{"domain":[0.1,12.85],"nice":false,"zero":false},"axis":null},
     "y":{"field":"obs","type":"quantitative","scale":{"domain":[10,101],"nice":false,"zero":false},"axis":null}}},
   {"data":{"name":"r"},"transform":[{"filter":"datum.level==750 && datum.region=='90S-30S'"},{"calculate":"'r=' + format(datum.r_grims, '.2f')","as":"t"}],"mark":{"type":"text","align":"left","baseline":"middle","color":"#e8262b","font":"Liberation Serif","fontWeight":"bold","fontSize":13.5},
    "encoding":{"x":{"datum":0.98,"type":"quantitative","scale":{"domain":[0.1,12.85],"nice":false,"zero":false},"axis":null},"y":{"datum":94,"type":"quantitative","scale":{"domain":[10,101],"nice":false,"zero":false},"axis":null},"text":{"field":"t"}}},
   {"data":{"name":"r"},"transform":[{"filter":"datum.level==750 && datum.region=='90S-30S'"},{"calculate":"'r=' + format(datum.r_geos, '.2f')","as":"t"}],"mark":{"type":"text","align":"left","baseline":"middle","color":"#38a538","font":"Liberation Serif","fontWeight":"bold","fontSize":13.5},
    "encoding":{"x":{"datum":0.98,"type":"quantitative","scale":{"domain":[0.1,12.85],"nice":false,"zero":false},"axis":null},"y":{"datum":85.5,"type":"quantitative","scale":{"domain":[10,101],"nice":false,"zero":false},"axis":null},"text":{"field":"t"}}}
  ],
  "resolve":{"axis":{"x":"independent","y":"independent"}}},
 {"width":222,"height":173,
  "layer":[
   {"data":{"name":"obs"},"transform":[{"filter":"datum.level==750 && datum.region=='30S-EQ'"}],"mark":{"type":"rule","color":"black","strokeWidth":2.5,"clip":true},
    "encoding":{"x":{"field":"month","type":"quantitative","scale":{"domain":[0.1,12.85],"nice":false,"zero":false},"axis":{"orient":"bottom","values":[1,2,3,4,5,6,7,8,9,10,11,12],"tickSize":-5,"labelExpr":"['J','F','M','A','M','J','J','A','S','O','N','D'][datum.value-1]","labelFontSize":16,"labelPadding":17,"labelFlush":false,"labelOverlap":false,"title":"30°S - EQ","titleFontSize":22,"titlePadding":1}},
     "y":{"field":"low","type":"quantitative","scale":{"domain":[10,101],"nice":false,"zero":false},"axis":{"orient":"left","values":[10,15,20,25,30,35,40,45,50,55,60,65,70,75,80,85,90,95,100],"tickSize":{"condition":{"test":"datum.value % 20 === 0","value":-7},"value":-4},"labels":false,"title":null}},
     "y2":{"field":"high"}}},
   {"data":{"name":"obs"},"transform":[{"filter":"datum.level==750 && datum.region=='30S-EQ'"}],"mark":{"type":"line","color":"#e8262b","strokeWidth":2,"clip":true},
    "encoding":{"x":{"field":"month","type":"quantitative","scale":{"domain":[0.1,12.85],"nice":false,"zero":false},"axis":{"orient":"top","values":[1,2,3,4,5,6,7,8,9,10,11,12],"tickSize":-5,"labels":false,"title":null}},
     "y":{"field":"grims","type":"quantitative","scale":{"domain":[10,101],"nice":false,"zero":false},"axis":{"orient":"right","values":[10,15,20,25,30,35,40,45,50,55,60,65,70,75,80,85,90,95,100],"tickSize":{"condition":{"test":"datum.value % 20 === 0","value":-7},"value":-4},"labels":false,"title":null}}}},
   {"data":{"name":"obs"},"transform":[{"filter":"datum.level==750 && datum.region=='30S-EQ'"}],"mark":{"type":"line","color":"#38a538","strokeWidth":2,"clip":true},
    "encoding":{"x":{"field":"month","type":"quantitative","scale":{"domain":[0.1,12.85],"nice":false,"zero":false},"axis":null},
     "y":{"field":"geos","type":"quantitative","scale":{"domain":[10,101],"nice":false,"zero":false},"axis":null}}},
   {"data":{"name":"obs"},"transform":[{"filter":"datum.level==750 && datum.region=='30S-EQ'"}],"mark":{"type":"circle","color":"black","size":80,"opacity":1},
    "encoding":{"x":{"field":"month","type":"quantitative","scale":{"domain":[0.1,12.85],"nice":false,"zero":false},"axis":null},
     "y":{"field":"obs","type":"quantitative","scale":{"domain":[10,101],"nice":false,"zero":false},"axis":null}}},
   {"data":{"name":"r"},"transform":[{"filter":"datum.level==750 && datum.region=='30S-EQ'"},{"calculate":"'r=' + format(datum.r_grims, '.2f')","as":"t"}],"mark":{"type":"text","align":"left","baseline":"middle","color":"#e8262b","font":"Liberation Serif","fontWeight":"bold","fontSize":13.5},
    "encoding":{"x":{"datum":0.98,"type":"quantitative","scale":{"domain":[0.1,12.85],"nice":false,"zero":false},"axis":null},"y":{"datum":94,"type":"quantitative","scale":{"domain":[10,101],"nice":false,"zero":false},"axis":null},"text":{"field":"t"}}},
   {"data":{"name":"r"},"transform":[{"filter":"datum.level==750 && datum.region=='30S-EQ'"},{"calculate":"'r=' + format(datum.r_geos, '.2f')","as":"t"}],"mark":{"type":"text","align":"left","baseline":"middle","color":"#38a538","font":"Liberation Serif","fontWeight":"bold","fontSize":13.5},
    "encoding":{"x":{"datum":0.98,"type":"quantitative","scale":{"domain":[0.1,12.85],"nice":false,"zero":false},"axis":null},"y":{"datum":85.5,"type":"quantitative","scale":{"domain":[10,101],"nice":false,"zero":false},"axis":null},"text":{"field":"t"}}}
  ],
  "resolve":{"axis":{"x":"independent","y":"independent"}}},
 {"width":222,"height":173,
  "layer":[
   {"data":{"name":"obs"},"transform":[{"filter":"datum.level==750 && datum.region=='EQ-30N'"}],"mark":{"type":"rule","color":"black","strokeWidth":2.5,"clip":true},
    "encoding":{"x":{"field":"month","type":"quantitative","scale":{"domain":[0.1,12.85],"nice":false,"zero":false},"axis":{"orient":"bottom","values":[1,2,3,4,5,6,7,8,9,10,11,12],"tickSize":-5,"labelExpr":"['J','F','M','A','M','J','J','A','S','O','N','D'][datum.value-1]","labelFontSize":16,"labelPadding":17,"labelFlush":false,"labelOverlap":false,"title":"EQ - 30°N","titleFontSize":22,"titlePadding":1}},
     "y":{"field":"low","type":"quantitative","scale":{"domain":[10,101],"nice":false,"zero":false},"axis":{"orient":"left","values":[10,15,20,25,30,35,40,45,50,55,60,65,70,75,80,85,90,95,100],"tickSize":{"condition":{"test":"datum.value % 20 === 0","value":-7},"value":-4},"labels":false,"title":null}},
     "y2":{"field":"high"}}},
   {"data":{"name":"obs"},"transform":[{"filter":"datum.level==750 && datum.region=='EQ-30N'"}],"mark":{"type":"line","color":"#e8262b","strokeWidth":2,"clip":true},
    "encoding":{"x":{"field":"month","type":"quantitative","scale":{"domain":[0.1,12.85],"nice":false,"zero":false},"axis":{"orient":"top","values":[1,2,3,4,5,6,7,8,9,10,11,12],"tickSize":-5,"labels":false,"title":null}},
     "y":{"field":"grims","type":"quantitative","scale":{"domain":[10,101],"nice":false,"zero":false},"axis":{"orient":"right","values":[10,15,20,25,30,35,40,45,50,55,60,65,70,75,80,85,90,95,100],"tickSize":{"condition":{"test":"datum.value % 20 === 0","value":-7},"value":-4},"labels":false,"title":null}}}},
   {"data":{"name":"obs"},"transform":[{"filter":"datum.level==750 && datum.region=='EQ-30N'"}],"mark":{"type":"line","color":"#38a538","strokeWidth":2,"clip":true},
    "encoding":{"x":{"field":"month","type":"quantitative","scale":{"domain":[0.1,12.85],"nice":false,"zero":false},"axis":null},
     "y":{"field":"geos","type":"quantitative","scale":{"domain":[10,101],"nice":false,"zero":false},"axis":null}}},
   {"data":{"name":"obs"},"transform":[{"filter":"datum.level==750 && datum.region=='EQ-30N'"}],"mark":{"type":"circle","color":"black","size":80,"opacity":1},
    "encoding":{"x":{"field":"month","type":"quantitative","scale":{"domain":[0.1,12.85],"nice":false,"zero":false},"axis":null},
     "y":{"field":"obs","type":"quantitative","scale":{"domain":[10,101],"nice":false,"zero":false},"axis":null}}},
   {"data":{"name":"r"},"transform":[{"filter":"datum.level==750 && datum.region=='EQ-30N'"},{"calculate":"'r=' + format(datum.r_grims, '.2f')","as":"t"}],"mark":{"type":"text","align":"left","baseline":"middle","color":"#e8262b","font":"Liberation Serif","fontWeight":"bold","fontSize":13.5},
    "encoding":{"x":{"datum":0.98,"type":"quantitative","scale":{"domain":[0.1,12.85],"nice":false,"zero":false},"axis":null},"y":{"datum":94,"type":"quantitative","scale":{"domain":[10,101],"nice":false,"zero":false},"axis":null},"text":{"field":"t"}}},
   {"data":{"name":"r"},"transform":[{"filter":"datum.level==750 && datum.region=='EQ-30N'"},{"calculate":"'r=' + format(datum.r_geos, '.2f')","as":"t"}],"mark":{"type":"text","align":"left","baseline":"middle","color":"#38a538","font":"Liberation Serif","fontWeight":"bold","fontSize":13.5},
    "encoding":{"x":{"datum":0.98,"type":"quantitative","scale":{"domain":[0.1,12.85],"nice":false,"zero":false},"axis":null},"y":{"datum":85.5,"type":"quantitative","scale":{"domain":[10,101],"nice":false,"zero":false},"axis":null},"text":{"field":"t"}}}
  ],
  "resolve":{"axis":{"x":"independent","y":"independent"}}},
 {"width":218,"height":173,
  "layer":[
   {"data":{"name":"obs"},"transform":[{"filter":"datum.level==750 && datum.region=='30N-90N'"}],"mark":{"type":"rule","color":"black","strokeWidth":2.5,"clip":true},
    "encoding":{"x":{"field":"month","type":"quantitative","scale":{"domain":[0.1,12.85],"nice":false,"zero":false},"axis":{"orient":"bottom","values":[1,2,3,4,5,6,7,8,9,10,11,12],"tickSize":-5,"labelExpr":"['J','F','M','A','M','J','J','A','S','O','N','D'][datum.value-1]","labelFontSize":16,"labelPadding":17,"labelFlush":false,"labelOverlap":false,"title":"30°N - 90°N","titleFontSize":22,"titlePadding":1}},
     "y":{"field":"low","type":"quantitative","scale":{"domain":[10,101],"nice":false,"zero":false},"axis":{"orient":"left","values":[10,15,20,25,30,35,40,45,50,55,60,65,70,75,80,85,90,95,100],"tickSize":{"condition":{"test":"datum.value % 20 === 0","value":-7},"value":-4},"labels":false,"title":null}},
     "y2":{"field":"high"}}},
   {"data":{"name":"obs"},"transform":[{"filter":"datum.level==750 && datum.region=='30N-90N'"}],"mark":{"type":"line","color":"#e8262b","strokeWidth":2,"clip":true},
    "encoding":{"x":{"field":"month","type":"quantitative","scale":{"domain":[0.1,12.85],"nice":false,"zero":false},"axis":{"orient":"top","values":[1,2,3,4,5,6,7,8,9,10,11,12],"tickSize":-5,"labels":false,"title":null}},
     "y":{"field":"grims","type":"quantitative","scale":{"domain":[10,101],"nice":false,"zero":false},"axis":{"orient":"right","values":[10,15,20,25,30,35,40,45,50,55,60,65,70,75,80,85,90,95,100],"tickSize":{"condition":{"test":"datum.value % 20 === 0","value":-7},"value":-4},"labels":false,"title":null}}}},
   {"data":{"name":"obs"},"transform":[{"filter":"datum.level==750 && datum.region=='30N-90N'"}],"mark":{"type":"line","color":"#38a538","strokeWidth":2,"clip":true},
    "encoding":{"x":{"field":"month","type":"quantitative","scale":{"domain":[0.1,12.85],"nice":false,"zero":false},"axis":null},
     "y":{"field":"geos","type":"quantitative","scale":{"domain":[10,101],"nice":false,"zero":false},"axis":null}}},
   {"data":{"name":"obs"},"transform":[{"filter":"datum.level==750 && datum.region=='30N-90N'"}],"mark":{"type":"circle","color":"black","size":80,"opacity":1},
    "encoding":{"x":{"field":"month","type":"quantitative","scale":{"domain":[0.1,12.85],"nice":false,"zero":false},"axis":null},
     "y":{"field":"obs","type":"quantitative","scale":{"domain":[10,101],"nice":false,"zero":false},"axis":null}}},
   {"data":{"name":"r"},"transform":[{"filter":"datum.level==750 && datum.region=='30N-90N'"},{"calculate":"'r=' + format(datum.r_grims, '.2f')","as":"t"}],"mark":{"type":"text","align":"left","baseline":"middle","color":"#e8262b","font":"Liberation Serif","fontWeight":"bold","fontSize":13.5},
    "encoding":{"x":{"datum":0.98,"type":"quantitative","scale":{"domain":[0.1,12.85],"nice":false,"zero":false},"axis":null},"y":{"datum":94,"type":"quantitative","scale":{"domain":[10,101],"nice":false,"zero":false},"axis":null},"text":{"field":"t"}}},
   {"data":{"name":"r"},"transform":[{"filter":"datum.level==750 && datum.region=='30N-90N'"},{"calculate":"'r=' + format(datum.r_geos, '.2f')","as":"t"}],"mark":{"type":"text","align":"left","baseline":"middle","color":"#38a538","font":"Liberation Serif","fontWeight":"bold","fontSize":13.5},
    "encoding":{"x":{"datum":0.98,"type":"quantitative","scale":{"domain":[0.1,12.85],"nice":false,"zero":false},"axis":null},"y":{"datum":85.5,"type":"quantitative","scale":{"domain":[10,101],"nice":false,"zero":false},"axis":null},"text":{"field":"t"}}}
  ],
  "resolve":{"axis":{"x":"independent","y":"independent"}}}
]
}
